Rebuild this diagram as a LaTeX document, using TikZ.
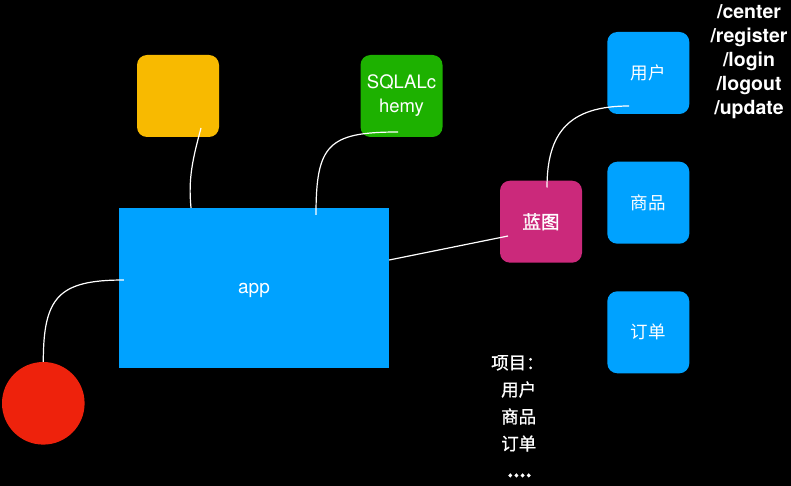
\documentclass[tikz,border=0pt]{standalone}
\usepackage{fontspec}
\setmainfont{TeX Gyre Heros}
\newfontfamily\cjk{Noto Sans CJK SC}
\newfontfamily\cjkb[FakeBold=1.5]{Noto Sans CJK SC}
\newfontfamily\cjkm[FakeBold=0.8]{Noto Sans CJK SC}
\usepackage{tikz}
\definecolor{appblue}{HTML}{00A2FF}
\definecolor{extyellow}{HTML}{F8BA00}
\definecolor{dbgreen}{HTML}{1DB100}
\definecolor{ballred}{HTML}{EE220C}
\definecolor{bpred}{HTML}{CB297B}

\begin{document}
\begin{tikzpicture}[x=1pt,y=-1pt,
                box/.style={rounded corners=10pt,minimum width=82pt,minimum height=82pt,inner sep=0pt,text=white,align=center},
                zh/.style={font=\cjk\fontsize{17.5}{24}\selectfont},
                wire/.style={white,line width=1.2pt}]
                \fill[black] (0,0) rectangle (791,486);
                \node[box,fill=extyellow] (ext) at (178,96) {};
                \node[box,fill=dbgreen,font=\fontsize{18.5}{24}\selectfont] (db) at (401.5,96) {SQLALc\\hemy};
                \node[fill=appblue,minimum width=270pt,minimum height=160pt,inner sep=0pt,text=white,text height=10pt,text depth=0pt,font=\fontsize{19}{24}\selectfont] (app) at (254,288) {app};
                \node[circle,fill=ballred,minimum size=82.6pt,inner sep=0pt] (ball) at (43.3,403.3) {};
                \node[box,fill=bpred,font=\cjkb\fontsize{18.5}{24}\selectfont] (bp) at (541,221.7) {蓝图};
                \node[box,zh,fill=appblue] (user) at (648.3,73) {用户};
                \node[box,zh,fill=appblue] (goods) at (648.3,202.7) {商品};
                \node[box,zh,fill=appblue] (order) at (648.3,332.3) {订单};
                \node[text=white,align=center,font=\bfseries\fontsize{19.5}{24}\selectfont] (routes) at (749,62) {/center\\/register\\/login\\/logout\\/update};
                \node[text=white,align=left,anchor=north west,inner sep=0pt,font=\cjkm\fontsize{17.5}{27}\selectfont] (items) at (491,355)
                    {项目：\\\hspace*{10pt}用户\\\hspace*{10pt}商品\\\hspace*{10pt}订单\\\hspace*{16pt}{\bfseries ....}};
                \draw[wire] ([shift={(23,32)}]ext.center) .. controls +(-8,30) and +(-3,-30) .. ([shift={(-63,0)}]app.north);
                \draw[wire] ([shift={(-3.5,36)}]db.center) .. controls +(-70,0) and +(0,-70) .. ([shift={(62,7)}]app.north);
                \draw[wire] ([shift={(-19.3,33)}]user.center) .. controls +(-60,0) and +(0,-55) .. ([shift={(6,7)}]bp.north);
                \draw[wire] ([shift={(0,-28)}]app.east) -- ([shift={(-33,14.3)}]bp.center);
                \draw[wire] ([shift={(5,-8)}]app.west) .. controls +(-65,0) and +(0,-65) .. (ball.north);
            \end{tikzpicture}
\end{document}
